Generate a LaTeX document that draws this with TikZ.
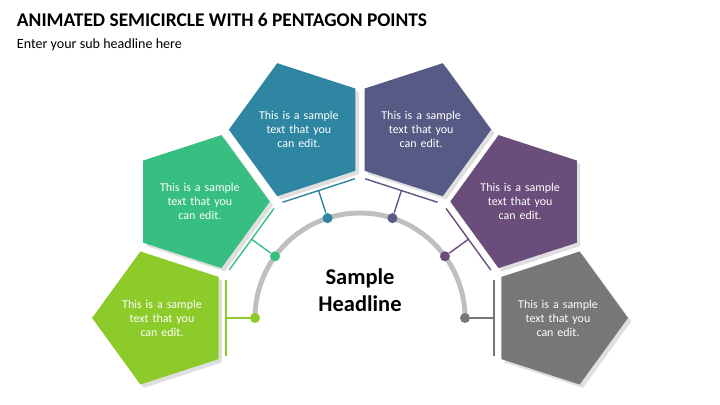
\documentclass[tikz,border=0pt]{standalone}
\usepackage{fontspec}
\setmainfont{Carlito}
\usetikzlibrary{shapes.geometric, shadows, calc}
\definecolor{clime}{HTML}{8CCB2A}
\definecolor{cgreen}{HTML}{36BF80}
\definecolor{cblue}{HTML}{2E86A3}
\definecolor{cslate}{HTML}{565A85}
\definecolor{cplum}{HTML}{6A4D7A}
\definecolor{cgrey}{HTML}{777777}
\begin{document}
\begin{tikzpicture}[x=0.025cm, y=0.025cm,
    penta/.style={regular polygon, regular polygon sides=5, minimum size=3.15cm,
        inner sep=0pt, text=white, align=center, text width=2cm,
        font=\fontsize{8.5}{10}\selectfont, drop shadow={opacity=0.25}},
    dot/.style={circle, inner sep=0pt, minimum size=0.25cm}]
    \useasboundingbox (0,0) rectangle (720,405);
    \node[anchor=west, font=\bfseries\fontsize{13.8}{16}\selectfont] (title) at (12,385) {ANIMATED SEMICIRCLE WITH 6 PENTAGON POINTS};
    \node[anchor=west, font=\fontsize{10}{12}\selectfont] (sub) at (12,360) {Enter your sub headline here};
    \coordinate (c) at (360,87);
    \draw[black!25, line width=3.5pt] (c) ++(180:105) arc (180:0:105);
    \node[font=\bfseries\fontsize{16}{19}\selectfont, align=center] (head) at (360,115) {Sample\\Headline};
    \foreach \a/\col in {180/clime, 144/cgreen, 108/cblue, 72/cslate, 36/cplum, 0/cgrey} {
        \node[penta, fill=\col, regular polygon rotate=\a-90] (p\a) at ($(c)+(\a:198)$) {This is a sample text that you can edit.};
        \node[dot, fill=\col] (d\a) at ($(c)+(\a:105)$) {};
        \coordinate (t\a) at ($(c)+(\a:134)$);
        \coordinate (l\a) at ($(t\a)+(\a+90:38)$);
        \coordinate (r\a) at ($(t\a)+(\a-90:38)$);
        \draw[\col, line width=1pt] (d\a) -- (t\a);
        \draw[\col, line width=1pt] (l\a) -- (r\a);
    }
\end{tikzpicture}
\end{document}
